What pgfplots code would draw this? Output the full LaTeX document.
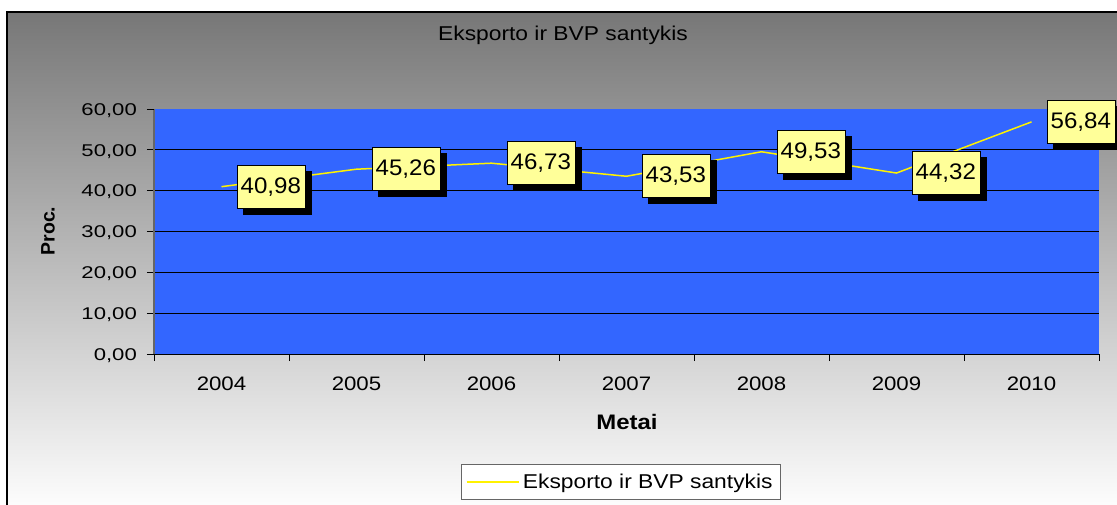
\documentclass[border=0pt]{standalone}
\usepackage{fontspec}
\setmainfont{Liberation Sans}
\newfontfamily\cfont[FakeStretch=1.14]{Liberation Sans}
\newfontfamily\yfont[FakeStretch=1.3]{Liberation Sans}
\newfontfamily\lfont[FakeStretch=1.07]{Liberation Sans}
\usepackage{pgfplots}
\pgfplotsset{compat=1.18}
\usetikzlibrary{shadows}
\definecolor{plotblue}{RGB}{51,102,255}
\definecolor{labelyellow}{RGB}{255,255,153}
\definecolor{bgtop}{RGB}{119,119,119}
\begin{document}
\begin{tikzpicture}[x=1pt,y=1pt]
\path[use as bounding box, clip] (0,0) rectangle (1117,504);
\fill[white] (0,0) rectangle (1117,504);
\shade[top color=bgtop, bottom color=white] (7,-10) rectangle (1117,492);
\draw[black, line width=1.2pt] (7,-10) -- (7,492) -- (1120,492);
\begin{axis}[
  at={(154pt,150pt)}, anchor=south west,
  width=945pt, height=245pt, scale only axis,
  xmin=-0.5, xmax=6.5, ymin=0, ymax=60,
  clip=false,
  axis x line=bottom, axis y line=left,
  axis line style={-},
  x axis line style={black, line width=1pt},
  y axis line style={black!60, line width=1.2pt},
  axis background/.style={fill=plotblue},
  xtick={0,...,6},
  xticklabels={2004,2005,2006,2007,2008,2009,2010},
  major x tick style={draw=none},
  minor xtick={-0.5,0.5,...,6.5},
  minor x tick style={black, line width=0.8pt},
  tick align=outside,
  minor tick length=7pt,
  major tick length=7pt,
  ytick={10,20,30,40,50},
  yticklabels={{10,00},{20,00},{30,00},{40,00},{50,00}},
  extra y ticks={0,60},
  extra y tick labels={{0,00},{60,00}},
  extra y tick style={grid=none},
  ymajorgrids,
  major grid style={black, line width=0.8pt},
  y tick style={black, line width=0.8pt},
  xticklabel style={font=\cfont\fontsize{19.5}{22}\selectfont, anchor=base, inner sep=0pt, yshift=-29pt},
  yticklabel style={font=\yfont\fontsize{17}{20}\selectfont, anchor=base east, inner sep=0pt, xshift=-10pt, yshift=-6.2pt},
  title={Eksporto ir BVP santykis},
  title style={font=\cfont\fontsize{20}{24}\selectfont, at={(axis description cs:0.4328,1.2571)}, anchor=base, inner sep=0pt},
  xlabel={Metai},
  xlabel style={font=\cfont\bfseries\fontsize{21}{24}\selectfont, at={(axis description cs:0.5005,-0.2755)}, anchor=center},
  ylabel={Proc.},
  ylabel style={font=\bfseries\fontsize{19.5}{22}\selectfont, at={(axis description cs:-0.1122,0.502)}, anchor=center},
  legend style={at={(axis description cs:0.3249,-0.449)}, anchor=north west, draw=black!60, fill=white, line width=0.8pt,
    font=\cfont\fontsize{20}{24}\selectfont, inner xsep=4.5pt, inner ysep=6pt, nodes={inner sep=3.5pt}},
  legend image code/.code={\draw[#1] (0pt,0pt) -- (52pt,0pt);},
]
\addplot[color=yellow, line width=1.5pt,
  nodes near coords={\pgfmathprintnumber[fixed,fixed zerofill,precision=2,use comma,assume math mode=true]{\pgfplotspointmeta}},
  every node near coord/.append style={anchor=west, xshift=15pt, fill=labelyellow, draw=black, line width=0.6pt, text=black,
    minimum width=68pt, minimum height=43pt, inner xsep=3.5pt, font=\lfont\fontsize{22.5}{26}\selectfont,
    drop shadow={shadow xshift=6pt, shadow yshift=-6pt, fill=black, opacity=1}}]
coordinates {(0,40.98) (1,45.26) (2,46.73) (3,43.53) (4,49.53) (5,44.32) (6,56.84)};
\addlegendentry{Eksporto ir BVP santykis}
\end{axis}
\end{tikzpicture}
\end{document}
